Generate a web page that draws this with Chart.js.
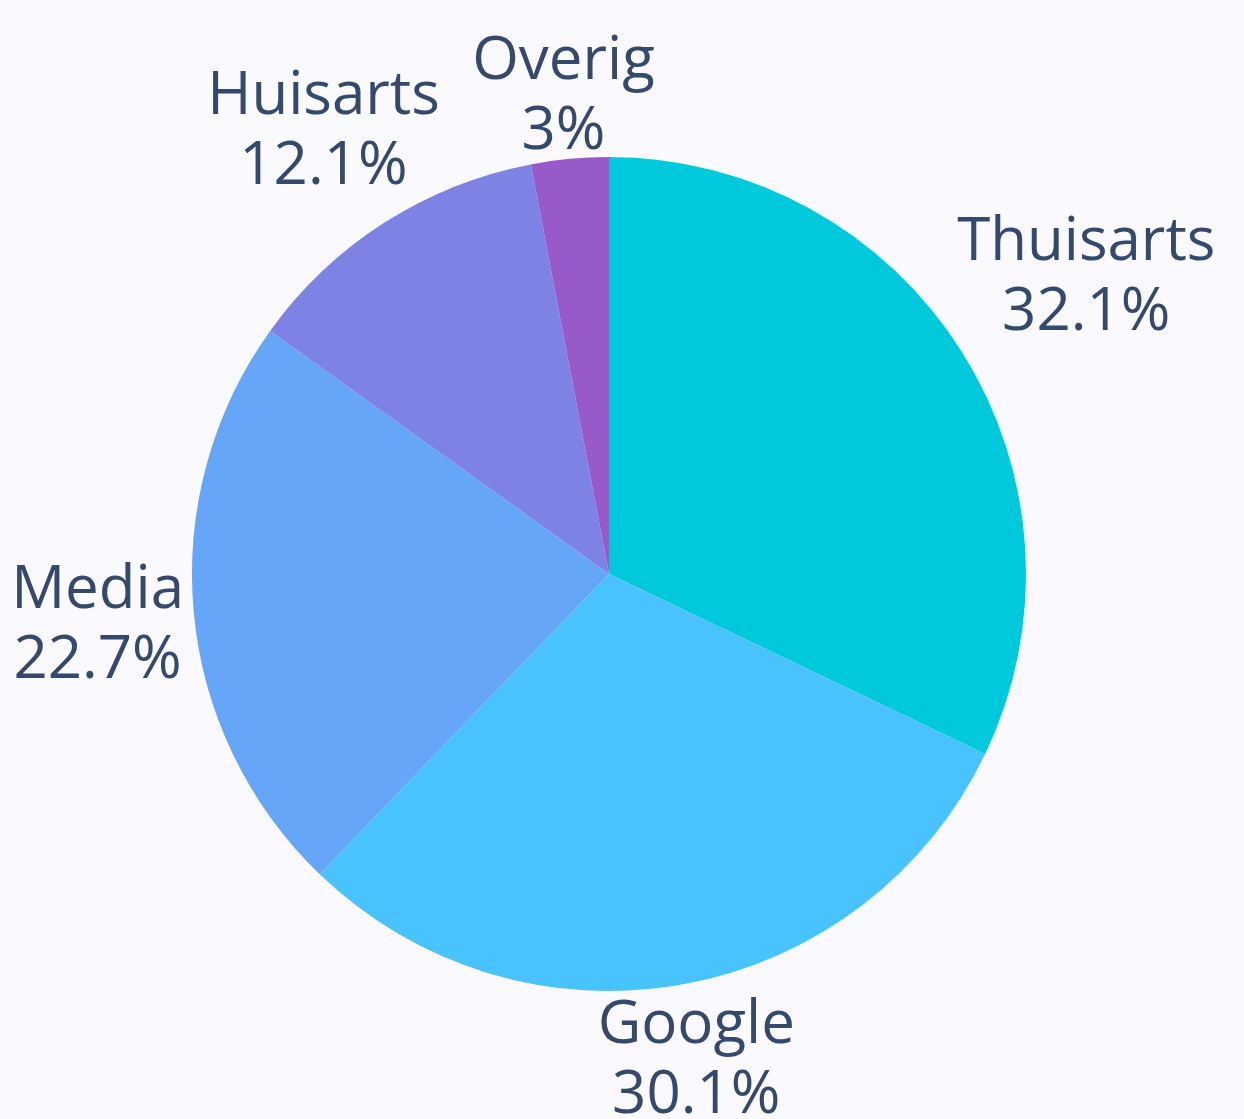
<!DOCTYPE html>
<html>
<head>
<meta charset="utf-8">
<script src="https://cdn.jsdelivr.net/npm/chart.js@4.4.1/dist/chart.umd.min.js"></script>
<style>
  html, body { margin: 0; padding: 0; background: #f9f9fe; }
  canvas { display: block; }
</style>
</head>
<body>
<canvas id="sourcePie" width="1244" height="1119"></canvas>
<script>
// Data block
const sourceLabels = ['Thuisarts', 'Google', 'Media', 'Huisarts', 'Overig'];
const sourceValues = [32.1, 30.1, 22.7, 12.1, 3.0];
const sourceColors = ['#00c9db', '#48c3fd', '#65a6f8', '#7f82e5', '#985ac9'];

const labelFont = '60px "Open Sans"';
const labelColor = '#34496b';

// Outside labels plugin: label + percent placed on the slice's mid ray, just clear of the pie
const outsideLabels = {
    id: 'outsideLabels',
    afterDatasetsDraw(chart) {
        const ctx = chart.ctx;
        const meta = chart.getDatasetMeta(0);
        const values = chart.data.datasets[0].data;
        const total = values.reduce((a, b) => a + b, 0);
        const lineGap = 70;   // distance between the two text lines
        const capHalf = 22;   // half of the cap height
        const clearance = 8;  // gap between pie edge and text block

        ctx.save();
        ctx.font = labelFont;
        ctx.fillStyle = labelColor;
        ctx.textAlign = 'center';
        ctx.textBaseline = 'alphabetic';

        meta.data.forEach((arc, i) => {
            const p = arc.getProps(['x', 'y', 'startAngle', 'endAngle', 'outerRadius'], true);
            const mid = (p.startAngle + p.endAngle) / 2;
            const dx = Math.cos(mid), dy = Math.sin(mid);
            const pct = Math.round(values[i] / total * 1000) / 10;
            const lines = [chart.data.labels[i], pct + '%'];
            const hw = Math.max(...lines.map(t => ctx.measureText(t).width)) / 2;
            const hh = lineGap / 2 + capHalf;
            const target = p.outerRadius + clearance;

            // find how far along the ray the block must sit so its nearest point clears the pie
            let lo = 0, hi = 3000;
            for (let k = 0; k < 60; k++) {
                const t = (lo + hi) / 2;
                const ox = Math.max(Math.abs(dx * t) - hw, 0);
                const oy = Math.max(Math.abs(dy * t) - hh, 0);
                if (Math.hypot(ox, oy) < target) lo = t; else hi = t;
            }
            const cx = p.x + dx * hi;
            const cy = p.y + dy * hi;
            ctx.fillText(lines[0], cx, cy - lineGap / 2 + capHalf);
            ctx.fillText(lines[1], cx, cy + lineGap / 2 + capHalf);
        });
        ctx.restore();
    }
};

// Config block
const sourcePieConfig = {
    type: 'pie',
    data: {
        labels: sourceLabels,
        datasets: [{
            data: sourceValues,
            backgroundColor: sourceColors,
            borderWidth: 0
        }]
    },
    options: {
        responsive: false,
        animation: false,
        layout: {
            padding: { left: 192, right: 218, top: 157, bottom: 128 }
        },
        plugins: {
            legend: { display: false },
            tooltip: { enabled: false }
        }
    },
    plugins: [outsideLabels]
};

// render / init block
document.fonts.load(labelFont).then(() => {
    new Chart(document.getElementById('sourcePie'), sourcePieConfig);
});
</script>
</body>
</html>
